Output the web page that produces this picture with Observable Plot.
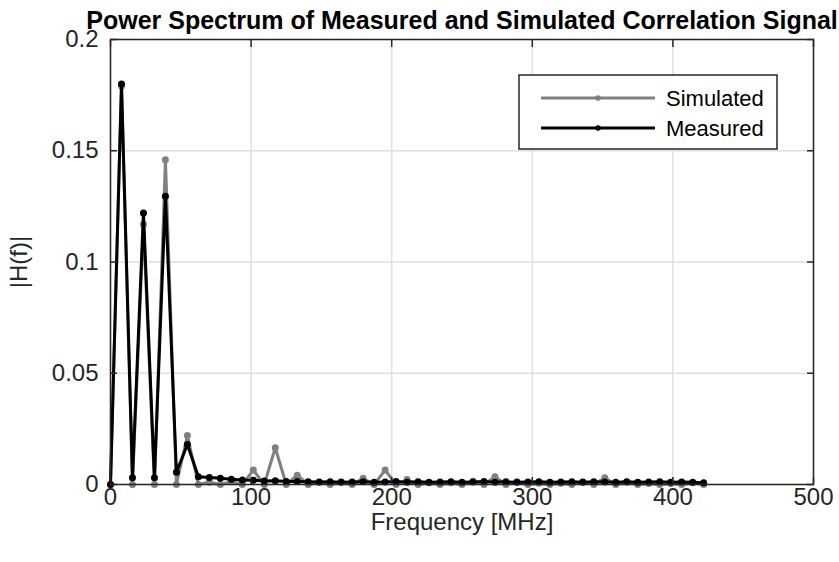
<!DOCTYPE html>
<html>
<head>
<meta charset="utf-8">
<script src="https://cdn.jsdelivr.net/npm/d3@7"></script>
<script src="https://cdn.jsdelivr.net/npm/@observablehq/plot@0.6"></script>
<style>
  html, body { margin: 0; padding: 0; background: white; }
</style>
</head>
<body>
<div id="chart"></div>
<script>
const title = "Power Spectrum of Measured and Simulated Correlation Signal";
const xLabel = "Frequency [MHz]";
const yLabel = "|H(f)|";
const xTicks = [0, 100, 200, 300, 400, 500];
const yTicks = [0, 0.05, 0.1, 0.15, 0.2];
const seriesNames = ["Simulated", "Measured"];

const freq = [0, 7.8125, 15.625, 23.4375, 31.25, 39.0625, 46.875, 54.6875, 62.5, 70.3125,
  78.125, 85.9375, 93.75, 101.5625, 109.375, 117.1875, 125, 132.8125, 140.625, 148.4375,
  156.25, 164.0625, 171.875, 179.6875, 187.5, 195.3125, 203.125, 210.9375, 218.75, 226.5625,
  234.375, 242.1875, 250, 257.8125, 265.625, 273.4375, 281.25, 289.0625, 296.875, 304.6875,
  312.5, 320.3125, 328.125, 335.9375, 343.75, 351.5625, 359.375, 367.1875, 375, 382.8125,
  390.625, 398.4375, 406.25, 414.0625, 421.875];

const simulated = [0, 0.179, 0, 0.117, 0, 0.146, 0, 0.022, 0, 0.001,
  0, 0.0012, 0, 0.0065, 0, 0.0165, 0, 0.0042, 0, 0.001,
  0, 0.0012, 0, 0.0028, 0, 0.0065, 0, 0.0022, 0, 0.0008,
  0, 0.0008, 0, 0.0015, 0, 0.0035, 0, 0.0012, 0, 0.0006,
  0, 0.0006, 0, 0.0012, 0, 0.003, 0, 0.001, 0, 0.0005,
  0, 0.0005, 0, 0.0008, 0];

const measured = [0, 0.180, 0.003, 0.122, 0.003, 0.1295, 0.0055, 0.018, 0.0035, 0.0032,
  0.0028, 0.0024, 0.0020, 0.0019, 0.0016, 0.0017, 0.0014, 0.0013, 0.0012, 0.0011,
  0.0012, 0.0010, 0.0011, 0.0012, 0.0010, 0.0011, 0.0013, 0.0010, 0.0012, 0.0010,
  0.0011, 0.0012, 0.0010, 0.0011, 0.0013, 0.0010, 0.0012, 0.0010, 0.0011, 0.0012,
  0.0010, 0.0011, 0.0012, 0.0010, 0.0012, 0.0011, 0.0010, 0.0012, 0.0010, 0.0011,
  0.0012, 0.0010, 0.0011, 0.0010, 0.0008];

const rows = freq.map((f, i) => ({f, sim: simulated[i], meas: measured[i]}));

const ink = "#262626";
const gridColor = "#dfdfdf";
const simColor = "#808080";
const measColor = "#000000";

const chart = Plot.plot({
  width: 839,
  height: 562,
  marginLeft: 110,
  marginRight: 26,
  marginTop: 39,
  marginBottom: 78,
  style: {fontFamily: "'Liberation Sans', Arial, sans-serif", fontSize: "24px", color: ink, background: "white", overflow: "visible"},
  x: {domain: [0, 500]},
  y: {domain: [0, 0.2]},
  marks: [
    Plot.gridX(xTicks, {stroke: gridColor, strokeOpacity: 1, strokeWidth: 1.5}),
    Plot.gridY(yTicks, {stroke: gridColor, strokeOpacity: 1, strokeWidth: 1.5}),
    Plot.line(rows, {x: "f", y: "sim", stroke: simColor, strokeWidth: 3}),
    Plot.dot(rows, {x: "f", y: "sim", fill: simColor, r: 3.5}),
    Plot.line(rows, {x: "f", y: "meas", stroke: measColor, strokeWidth: 3}),
    Plot.dot(rows, {x: "f", y: "meas", fill: measColor, r: 3.5}),
    Plot.frame({stroke: ink, strokeWidth: 1.5}),
    Plot.axisX(xTicks, {anchor: "bottom", tickSize: -7, tickFormat: () => "", label: null, stroke: ink, strokeWidth: 1.5}),
    Plot.axisX(xTicks, {anchor: "top", tickSize: -7, tickFormat: () => "", label: null, stroke: ink, strokeWidth: 1.5}),
    Plot.axisY(yTicks, {anchor: "left", tickSize: -7, tickFormat: () => "", label: null, stroke: ink, strokeWidth: 1.5}),
    Plot.axisY(yTicks, {anchor: "right", tickSize: -7, tickFormat: () => "", label: null, stroke: ink, strokeWidth: 1.5}),
    Plot.axisX(xTicks, {anchor: "bottom", tickSize: 0, tickPadding: 3, fontSize: 24, fill: ink,
      label: xLabel, labelAnchor: "center", labelOffset: 45, labelArrow: "none"}),
    Plot.axisY(yTicks, {anchor: "left", tickSize: 0, tickPadding: 12, fontSize: 24, fill: ink,
      tickFormat: d => String(d), label: yLabel, labelAnchor: "center", labelOffset: 101, labelArrow: "none"}),
    Plot.text([title], {frameAnchor: "top", dy: -11, lineAnchor: "bottom", fontWeight: "bold", fontSize: 25, fill: "#000"})
  ]
});

// Legend box (inside the axes, top-right)
const svg = d3.select(chart);
const lg = svg.append("g").attr("font-family", "'Liberation Sans', Arial, sans-serif");
lg.append("rect").attr("x", 519).attr("y", 75).attr("width", 258).attr("height", 74)
  .attr("fill", "white").attr("stroke", ink).attr("stroke-width", 1.5);
const entries = [
  {name: seriesNames[0], color: simColor, y: 98},
  {name: seriesNames[1], color: measColor, y: 128}
];
for (const e of entries) {
  lg.append("line").attr("x1", 541).attr("x2", 655).attr("y1", e.y).attr("y2", e.y)
    .attr("stroke", e.color).attr("stroke-width", 3);
  lg.append("circle").attr("cx", 598).attr("cy", e.y).attr("r", 2.8).attr("fill", e.color);
  lg.append("text").attr("x", 666).attr("y", e.y).attr("dy", "0.35em")
    .attr("text-anchor", "start")
    .attr("font-size", 22).attr("fill", "#000").text(e.name);
}

document.getElementById("chart").appendChild(chart);
</script>
</body>
</html>
